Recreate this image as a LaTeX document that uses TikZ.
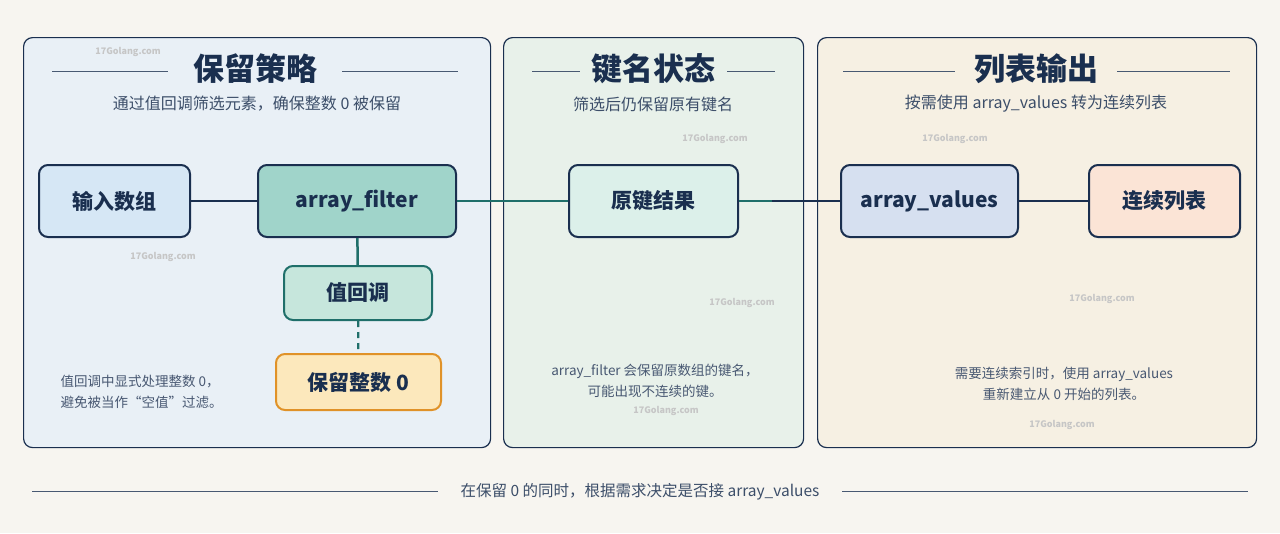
\documentclass[tikz,border=0pt]{standalone}
\usepackage{fontspec}
\setmainfont{Noto Sans CJK SC}
\begin{document}
\begin{tikzpicture}[x=1pt,y=-1pt,
 panel/.style={draw=navy,line width=1.2pt,rounded corners=9pt},
 box/.style={draw=navy,line width=2pt,rounded corners=9pt,font=\bfseries\fontsize{21}{24}\selectfont,text=navy,inner sep=0pt},
 ttl/.style={font=\bfseries\fontsize{31}{34}\selectfont,text=navy},
 sub/.style={font=\fontsize{16}{19}\selectfont,text=navy!85},
 bsub/.style={font=\fontsize{15.5}{19}\selectfont,text=navy!85},
 note/.style={font=\fontsize{13.5}{21}\selectfont,text=navy!80,align=center},
 hl/.style={draw=navy!80,line width=0.8pt},
 wm/.style={font=\bfseries\fontsize{9}{10}\selectfont,text=gray!45}]
\definecolor{navy}{HTML}{1A2F4F}
\definecolor{teal2}{HTML}{1F6F6A}
\definecolor{bg}{HTML}{F7F5F0}
\useasboundingbox (0,0) rectangle (1280,533);
\fill[bg] (0,0) rectangle (1280,533);
% panels
\node[panel,minimum width=467,minimum height=410,anchor=north west,fill={rgb,255:red,233;green,240;blue,246}] (p1) at (23,37) {};
\node[panel,minimum width=300,minimum height=410,anchor=north west,fill={rgb,255:red,232;green,241;blue,234}] (p2) at (503,37) {};
\node[panel,minimum width=439,minimum height=410,anchor=north west,fill={rgb,255:red,246;green,240;blue,227}] (p3) at (817,37) {};
% titles
\node[ttl] (t1) at (255,69) {保留策略};
\draw[hl] (52,71) -- (168,71) (342,71) -- (458,71);
\node[sub] (s1) at (257,104) {通过值回调筛选元素，确保整数 0 被保留};
\node[ttl] (t2) at (653,69) {键名状态};
\draw[hl] (532,71) -- (580,71) (727,71) -- (775,71);
\node[sub] (s2) at (653,104) {筛选后仍保留原有键名};
\node[ttl] (t3) at (1036,69) {列表输出};
\draw[hl] (843,71) -- (955,71) (1117,71) -- (1230,71);
\node[sub] (s3) at (1036,104) {按需使用 array\_values 转为连续列表};
% nodes
\node[box,fill={rgb,255:red,214;green,231;blue,245},minimum width=151,minimum height=72] (in) at (114.5,201) {输入数组};
\node[box,fill={rgb,255:red,160;green,212;blue,202},minimum width=198,minimum height=72] (af) at (357,201) {array\_filter};
\node[box,draw=teal2,fill={rgb,255:red,198;green,230;blue,220},minimum width=148,minimum height=54] (cb) at (358,293) {值回调};
\node[box,draw={rgb,255:red,224;green,146;blue,40},fill={rgb,255:red,252;green,232;blue,188},minimum width=165,minimum height=56] (keep) at (358.5,382) {保留整数 0};
\node[box,fill={rgb,255:red,220;green,240;blue,234},minimum width=169,minimum height=72] (ok) at (653.5,201) {原键结果};
\node[box,fill={rgb,255:red,214;green,224;blue,240},minimum width=177,minimum height=72] (av) at (929.5,201) {array\_values};
\node[box,fill={rgb,255:red,251;green,228;blue,214},minimum width=151,minimum height=72] (list) at (1164.5,201) {连续列表};
% connectors
\draw[navy,line width=2.5pt] (in) -- (af);
\draw[teal2,line width=2.5pt] (af) -- (ok);
\coordinate (mid) at (772,201);
\draw[teal2,line width=2.5pt] (ok) -- (mid);
\draw[navy,line width=2.5pt] (mid) -- (av);
\draw[navy,line width=2.5pt] (av) -- (list);
\draw[teal2,line width=2.5pt] (af) -- (cb);
\draw[teal2,line width=2.2pt,dash pattern=on 6pt off 5pt] (cb) -- (keep);
% notes
\node[note,align=left,anchor=west] (n1) at (57,392) {值回调中显式处理整数 0，\\避免被当作“空值”过滤。};
\node[note] (n2) at (655,381) {array\_filter 会保留原数组的键名，\\可能出现不连续的键。};
\node[note] (n3) at (1064,384) {需要连续索引时，使用 array\_values\\重新建立从 0 开始的列表。};
% bottom
\draw[hl] (32,491) -- (438,491) (842,491) -- (1248,491);
\node[bsub] (bt) at (640,492) {在保留 0 的同时，根据需求决定是否接 array\_values};
% watermarks
\foreach \x/\y in {128/52,163/257,715/139,742/303,1102/299,666/411,1062/425,955/139}
 \node[wm] at (\x,\y) {17Golang.com};
\end{tikzpicture}
\end{document}
